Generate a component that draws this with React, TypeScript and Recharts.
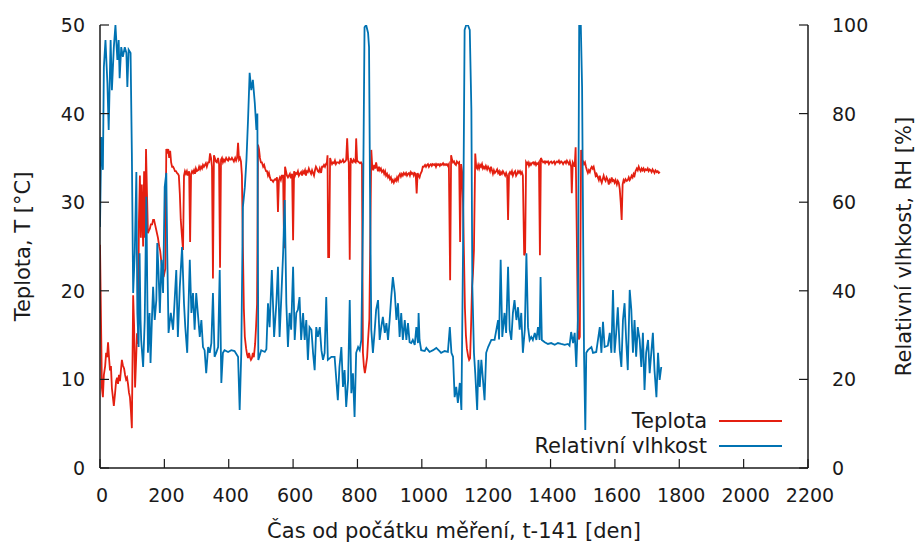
import { Line, LineChart, XAxis, YAxis } from "recharts";

// x axis: day since start of measurement (t-141)
const xTicks = [0, 200, 400, 600, 800, 1000, 1200, 1400, 1600, 1800, 2000, 2200];
const tTicks = [0, 10, 20, 30, 40, 50];
const rhTicks = [0, 20, 40, 60, 80, 100];

// [den, T °C]
const teplota: [number, number][] = [
  [0, 25.2], [3, 17], [6, 9], [9, 8], [12, 10.5], [16, 11.5], [19, 13], [22, 12.5], [25, 14.2], [28, 12.5],
  [31, 11], [34, 11.5], [37, 9], [40, 8], [43, 7], [47, 8.5], [50, 9.8], [53, 10.2], [56, 9.5], [59, 10.5],
  [62, 9.8], [65, 11], [68, 12.2], [71, 11.6], [75, 11.2], [78, 10.5], [81, 10], [84, 10.2], [87, 9.5], [90, 8.5],
  [93, 8], [96, 6.5], [99, 4.5], [103, 19.5], [106, 16], [109, 9.1], [112, 12], [115, 15.2], [118, 14], [121, 28],
  [124, 33], [127, 26], [130, 32], [134, 25], [137, 33.5], [140, 26], [143, 36], [146, 31], [149, 26.5], [152, 26.8],
  [155, 27], [158, 27.5], [162, 27.5], [165, 28], [168, 28], [171, 27.5], [174, 27], [177, 26.5], [180, 26], [184, 25],
  [187, 24.5], [190, 23.5], [193, 22.5], [196, 22], [199, 21.8], [203, 22.5], [206, 36], [209, 35.5], [212, 36], [215, 35],
  [218, 35.8], [221, 34.5], [224, 34], [227, 34], [230, 33.8], [233, 33.5], [236, 33.5], [239, 33.3], [242, 33.2], [245, 33],
  [248, 31], [251, 28], [255, 26], [258, 24.6], [261, 33], [264, 33.5], [267, 33.2], [270, 33.5], [273, 33], [277, 33.5],
  [280, 25.5], [283, 33.2], [286, 33.5], [289, 33.3], [292, 33.6], [295, 33.2], [298, 33.8], [301, 33.5], [305, 33.6], [308, 34],
  [311, 33.7], [314, 34], [317, 33.8], [320, 34.2], [323, 34], [326, 34.2], [329, 34.4], [332, 34], [336, 34.5], [339, 34.5],
  [342, 35.5], [345, 35], [348, 34], [351, 21.4], [354, 35.3], [357, 35], [360, 34.6], [363, 34.5], [367, 35], [370, 34.3],
  [373, 22.6], [376, 34.8], [379, 35], [382, 34.5], [385, 34.8], [388, 34.6], [392, 35], [395, 34.8], [398, 34.7], [401, 35],
  [404, 34.8], [407, 34.8], [410, 35], [413, 34.8], [416, 34.6], [420, 35], [423, 34.7], [426, 35], [429, 36.7], [432, 34.8],
  [435, 35], [438, 34.6], [441, 33], [444, 25], [447, 18], [450, 14.8], [454, 13.5], [457, 12.8], [460, 12.4], [463, 13],
  [466, 12.5], [469, 12.2], [472, 12.4], [475, 13], [478, 12.5], [482, 14], [485, 16], [488, 18.5], [491, 36.5], [494, 36],
  [497, 35], [500, 34.5], [503, 34.5], [507, 34], [510, 34.2], [513, 33.8], [516, 33.5], [519, 33.5], [522, 33], [525, 33.3],
  [528, 32.8], [531, 32.5], [534, 32.5], [538, 32.3], [541, 32.5], [544, 32.6], [547, 32.5], [550, 32.8], [553, 28.9], [556, 32.5],
  [559, 32.8], [562, 32.5], [565, 33], [569, 33], [572, 24.8], [575, 34], [578, 33.5], [581, 33], [584, 32.8], [587, 33],
  [590, 33.2], [593, 32.7], [597, 33.2], [600, 25.7], [603, 33.5], [606, 33], [609, 33.3], [612, 33.2], [615, 33.5], [618, 33],
  [621, 33.2], [625, 33.4], [628, 33], [631, 33.5], [634, 33.3], [637, 33.6], [640, 33], [643, 33.5], [646, 33.4], [649, 33.8],
  [652, 33.5], [656, 33.2], [659, 33.6], [662, 33.3], [665, 33], [668, 33.6], [671, 34], [674, 33.8], [677, 33.5], [680, 33.4],
  [683, 33.8], [687, 33.3], [690, 34], [693, 34], [696, 34.2], [699, 34], [702, 34.3], [705, 34.5], [707, 35.3], [709, 23.8],
  [712, 23.8], [715, 35], [718, 34.6], [721, 34.3], [724, 34.5], [727, 34.4], [730, 34.7], [733, 34.3], [736, 34.5], [740, 34.5],
  [743, 34.4], [746, 34.7], [749, 34.5], [752, 34.6], [755, 34.8], [758, 34.5], [762, 34.6], [765, 34.8], [768, 37.2], [771, 34.8],
  [773, 34.5], [776, 23.5], [779, 35], [782, 34.6], [785, 34.5], [788, 34.8], [791, 34.6], [794, 34.5], [796, 37.2], [799, 34.6],
  [802, 34.6], [805, 34.5], [808, 34.4], [811, 34.5], [814, 34.3], [817, 13], [820, 11.5], [823, 10.7], [826, 11.4], [830, 12.5],
  [833, 14.5], [837, 16.8], [843, 35.9], [846, 34], [849, 33.6], [852, 34.2], [855, 33.8], [858, 34.5], [861, 33.9], [864, 33.5],
  [867, 34], [870, 33.6], [873, 33.8], [876, 33.4], [880, 33.6], [883, 33.2], [886, 33.5], [889, 33], [892, 33.2], [895, 32.8],
  [898, 33], [901, 32.6], [904, 32.8], [907, 32.3], [910, 32.5], [913, 32.2], [917, 32.6], [920, 32.4], [923, 32.8], [926, 32.5],
  [929, 33], [932, 33.2], [935, 32.9], [938, 33.2], [941, 33], [944, 33.3], [948, 33.1], [951, 33.3], [954, 33], [957, 33.2],
  [960, 33.3], [963, 33], [966, 33.4], [969, 33.2], [972, 33.3], [975, 33], [978, 33.3], [981, 33.2], [984, 31], [987, 33.3],
  [990, 33], [993, 32.8], [996, 33.2], [1000, 33.5], [1003, 34], [1006, 34], [1010, 34.2], [1013, 34], [1016, 34.2], [1019, 34.3],
  [1022, 34], [1025, 34.2], [1028, 34.3], [1031, 34.1], [1034, 34.3], [1038, 34.2], [1041, 34.3], [1044, 34], [1047, 34.3], [1050, 34.2],
  [1053, 34.3], [1056, 34.1], [1059, 34.3], [1062, 34.2], [1066, 34.4], [1069, 34.2], [1072, 34.3], [1075, 34.2], [1078, 34.3], [1081, 34.1],
  [1084, 34.3], [1088, 21.2], [1091, 35.3], [1094, 34.8], [1097, 34.5], [1100, 34.6], [1103, 34.3], [1106, 34.2], [1109, 34.6], [1113, 34.4],
  [1116, 34.5], [1119, 25.5], [1122, 34.3], [1125, 33.5], [1128, 30], [1131, 24], [1134, 18], [1137, 15], [1140, 13.5], [1144, 12.6],
  [1147, 12.2], [1150, 12.4], [1153, 16], [1156, 20.4], [1159, 22], [1162, 24.6], [1166, 35.5], [1169, 34], [1172, 33.8], [1175, 34.2],
  [1178, 33.8], [1181, 34.2], [1184, 34], [1187, 34.3], [1190, 33.8], [1193, 34], [1196, 33.8], [1199, 34.1], [1203, 33.7], [1206, 34],
  [1209, 33.8], [1212, 33.5], [1215, 34], [1218, 33.6], [1221, 33.2], [1224, 33.6], [1227, 33.3], [1231, 33.5], [1234, 33.7], [1237, 33.3],
  [1240, 33.5], [1243, 33], [1246, 33.4], [1249, 33.2], [1252, 33.5], [1255, 33.3], [1259, 33], [1262, 33.3], [1265, 33], [1268, 28],
  [1271, 33.2], [1274, 33.4], [1277, 33.2], [1280, 33.5], [1283, 33], [1286, 33.3], [1290, 33.5], [1293, 33], [1296, 33.2], [1299, 33.5],
  [1302, 33.3], [1305, 33.5], [1308, 33.2], [1311, 33.4], [1314, 33], [1318, 24], [1321, 24.3], [1324, 34.5], [1327, 34.3], [1330, 34.5],
  [1333, 34.1], [1336, 34.4], [1339, 34.2], [1342, 34.4], [1346, 34.5], [1349, 34.3], [1352, 34.5], [1355, 34.2], [1358, 34.4], [1361, 34.3],
  [1364, 34.5], [1367, 24], [1370, 35], [1374, 34.7], [1377, 34.5], [1380, 34.6], [1383, 34.4], [1386, 34.6], [1389, 34.5], [1392, 34.6],
  [1395, 34.3], [1398, 34.5], [1402, 34.6], [1405, 34.4], [1408, 34.5], [1411, 34.6], [1414, 34.3], [1417, 34.5], [1420, 34.6], [1423, 34.5],
  [1426, 34.7], [1429, 34.4], [1433, 34.6], [1436, 34.5], [1439, 34.3], [1442, 34.5], [1445, 34.6], [1448, 34.4], [1451, 34.7], [1454, 34.5],
  [1457, 34.3], [1460, 34.6], [1464, 34], [1466, 31], [1469, 34.5], [1472, 34.3], [1475, 34], [1478, 36.2], [1482, 25], [1485, 15.6],
  [1488, 14.5], [1491, 14.8], [1495, 35.9], [1498, 34.8], [1501, 34.6], [1504, 34.3], [1507, 34.5], [1510, 34], [1513, 33.6], [1516, 33.3],
  [1519, 33.6], [1522, 33.4], [1525, 33.8], [1528, 34], [1531, 33.8], [1534, 34], [1537, 33.5], [1540, 33], [1543, 33.2], [1547, 32.8],
  [1550, 32.5], [1553, 33], [1556, 32.5], [1559, 32.2], [1562, 32.6], [1565, 33], [1568, 32.6], [1571, 32.4], [1574, 32.8], [1578, 32.5],
  [1581, 32], [1584, 32.5], [1587, 32.3], [1590, 32.8], [1593, 32.4], [1596, 32.5], [1599, 32.2], [1602, 32.5], [1606, 32], [1609, 32.4],
  [1612, 32.2], [1615, 31.5], [1618, 30], [1621, 28], [1624, 32], [1627, 32.5], [1630, 32.3], [1633, 32.6], [1637, 32.4], [1640, 32.5],
  [1643, 32.8], [1646, 32.5], [1649, 32.7], [1652, 33], [1655, 32.8], [1658, 33.2], [1661, 33], [1664, 33.5], [1668, 33.8], [1671, 33.6],
  [1674, 34], [1677, 33.7], [1680, 33.5], [1683, 33.8], [1686, 33.6], [1689, 33.8], [1692, 33.5], [1695, 33.7], [1699, 33.6], [1702, 33.8],
  [1705, 33.5], [1708, 33.7], [1711, 33.6], [1714, 33.4], [1717, 33.7], [1720, 33.5], [1723, 33.3], [1726, 33.6], [1730, 33.4], [1733, 33.5],
  [1736, 33.3], [1740, 33.4],
];

// [den, RH %]
const vlhkost: [number, number][] = [
  [0, 54.4], [4, 74.7], [9, 67.3], [12, 90.5], [17, 96.6], [23, 86.9], [27, 76.3], [33, 96.6], [37, 85.3], [43, 95],
  [48, 100], [54, 92.1], [58, 96.6], [61, 88], [66, 95], [71, 92.8], [77, 95], [82, 93.7], [85, 86], [89, 94.4],
  [95, 93.7], [99, 71.1], [103, 39.5], [108, 48.5], [113, 66.8], [116, 35], [120, 27.3], [123, 48.5], [126, 33.4], [128, 28.9],
  [134, 22.8], [139, 33.4], [144, 61.2], [147, 39.5], [149, 26], [154, 35], [157, 23.7], [162, 35], [165, 40.9], [170, 33.4],
  [175, 37.9], [178, 50.8], [182, 44], [186, 35], [191, 47], [196, 39.5], [201, 63.4], [206, 66.6], [209, 48.5], [213, 30.5],
  [220, 35], [227, 31.2], [237, 44.7], [242, 29.6], [248, 40.9], [255, 49.9], [261, 37.2], [265, 31.8], [271, 26], [279, 47],
  [284, 35], [289, 39.5], [294, 31.2], [299, 39.5], [304, 35], [310, 29.6], [315, 33.4], [320, 27.3], [325, 26.6], [330, 21.4],
  [336, 27.3], [341, 26], [346, 28.2], [351, 39.5], [356, 25.1], [361, 26], [367, 27.3], [372, 44.7], [377, 19.2], [382, 26],
  [387, 26.6], [398, 26.2], [408, 26.6], [418, 26.4], [429, 25.1], [434, 13.1], [439, 26], [444, 58.9], [450, 63.4], [455, 69.5],
  [460, 78.6], [465, 89.2], [470, 85.3], [475, 87.6], [481, 82.4], [486, 76.3], [489, 80], [492, 24.4], [501, 26.6], [512, 26.2],
  [517, 26.8], [522, 37.2], [527, 31.8], [534, 44.7], [541, 29.6], [548, 37.2], [553, 45.4], [558, 29.6], [563, 37.9], [569, 48.5],
  [574, 60.5], [579, 37.2], [584, 27.3], [589, 35], [594, 31.2], [600, 45.4], [605, 28.9], [610, 35], [615, 35.7], [620, 38.6],
  [625, 28.9], [631, 35], [636, 28.9], [641, 33.4], [646, 24.4], [651, 31.8], [657, 31.2], [662, 26], [667, 22.1], [672, 31.8],
  [677, 29.6], [683, 31.8], [688, 26.6], [693, 24.4], [698, 26], [703, 38.6], [708, 24.4], [719, 25.1], [729, 25.1], [739, 15.3],
  [744, 22.8], [750, 27.3], [755, 18.3], [760, 22.1], [765, 13.8], [771, 19.9], [776, 37.9], [781, 16.9], [786, 21.4], [791, 11.5],
  [796, 26], [802, 27.3], [807, 26.6], [812, 28.9], [817, 56], [822, 99.5], [827, 100], [833, 98.2], [836, 95], [839, 63.4],
  [843, 31.2], [848, 26], [853, 30.5], [858, 35.7], [864, 37.9], [869, 28.9], [874, 31.8], [879, 34.1], [885, 30.5], [890, 32.7],
  [895, 28.9], [900, 33.4], [905, 38.6], [910, 43.1], [916, 39.5], [921, 33.4], [926, 37.2], [931, 29.6], [936, 35], [941, 28.9],
  [947, 33.4], [952, 28.9], [957, 32.7], [962, 28.4], [967, 28.2], [972, 28.9], [978, 27.8], [983, 31.8], [988, 28.2], [990, 35],
  [993, 28.9], [998, 26.6], [1009, 26.4], [1014, 27.1], [1024, 26.2], [1035, 26.6], [1045, 27.1], [1055, 26.4], [1060, 26], [1071, 26.4],
  [1081, 26.2], [1087, 31.8], [1092, 26], [1097, 25.1], [1102, 16], [1107, 18.3], [1112, 14.7], [1118, 19.2], [1123, 13.1], [1128, 48.5],
  [1133, 98.9], [1138, 100], [1143, 100], [1149, 98.9], [1154, 80.8], [1157, 40.9], [1162, 26], [1166, 21.4], [1172, 13.1], [1176, 24.4],
  [1180, 18.3], [1185, 24.4], [1190, 19.9], [1195, 15.3], [1200, 26], [1206, 27.3], [1216, 28.9], [1226, 28.9], [1237, 33.4], [1240, 29],
  [1245, 47], [1250, 29.6], [1257, 35], [1262, 30.5], [1268, 45.4], [1273, 31.2], [1278, 28.9], [1283, 35], [1288, 37.9], [1294, 33.4],
  [1299, 36.3], [1304, 31.2], [1309, 35], [1314, 26], [1320, 31.2], [1325, 48.5], [1330, 31.8], [1335, 28.9], [1340, 29.6], [1345, 28.9],
  [1351, 30.5], [1356, 28.9], [1361, 31.8], [1366, 28.9], [1369, 43.1], [1373, 28.9], [1382, 28.4], [1392, 28], [1402, 28.2], [1413, 27.8],
  [1423, 28.2], [1433, 28], [1444, 27.8], [1454, 28], [1459, 27.6], [1464, 30.7], [1470, 28.2], [1475, 30.5], [1480, 22.8], [1485, 33.4],
  [1489, 100], [1494, 100], [1498, 86], [1504, 26], [1508, 8.6], [1511, 26], [1516, 26.6], [1527, 27.3], [1532, 26], [1542, 26.2],
  [1553, 31.8], [1558, 26], [1563, 33], [1568, 27.3], [1578, 27.6], [1584, 30.5], [1589, 26], [1594, 40.2], [1599, 26], [1604, 30.5],
  [1609, 36.3], [1615, 26.6], [1620, 22.8], [1625, 33.4], [1630, 37.2], [1635, 28.9], [1640, 22.1], [1646, 40.2], [1651, 35.7], [1656, 26],
  [1661, 33.4], [1666, 25.1], [1671, 31.8], [1677, 28.9], [1682, 22.8], [1687, 30.5], [1692, 17.6], [1697, 26], [1703, 28.9], [1708, 21.4],
  [1713, 26], [1718, 30.5], [1723, 22.1], [1729, 16], [1734, 26], [1739, 19.9], [1744, 22.8],
];

const RED = "#e41f10";
const BLUE = "#0072b2";
const INK = "#1a1a1a";
const FONT = "'DejaVu Sans', sans-serif";
const TICK_FS = 19;
const TITLE_FS = 21;

const tempData = teplota.map(([d, v]) => ({ d, v }));
const rhData = vlhkost.map(([d, v]) => ({ d, v }));

function XTick(props: any) {
  const { x, y, payload } = props;
  return (
    <g>
      <line x1={x} x2={x} y1={y} y2={y - 9} stroke={INK} strokeWidth={1.2} />
      <text x={x + 2} y={y + 34} textAnchor="middle" fontSize={TICK_FS} fontFamily={FONT} fill={INK}>
        {payload.value}
      </text>
    </g>
  );
}

function LeftTick(props: any) {
  const { x, y, payload } = props;
  return (
    <g>
      <line x1={x} x2={x + 9} y1={y} y2={y} stroke={INK} strokeWidth={1.2} />
      <text x={x - 15} y={y + 7} textAnchor="end" fontSize={TICK_FS} fontFamily={FONT} fill={INK}>
        {payload.value}
      </text>
    </g>
  );
}

function RightTick(props: any) {
  const { x, y, payload } = props;
  return (
    <g>
      <line x1={x - 9} x2={x} y1={y} y2={y} stroke={INK} strokeWidth={1.2} />
      <text x={x + 24} y={y + 7} textAnchor="start" fontSize={TICK_FS} fontFamily={FONT} fill={INK}>
        {payload.value}
      </text>
    </g>
  );
}

function VerticalTitle(props: any) {
  const { viewBox, value, cx } = props;
  const cy = viewBox.y + viewBox.height / 2;
  return (
    <text
      x={cx}
      y={cy}
      transform={`rotate(-90 ${cx} ${cy})`}
      textAnchor="middle"
      dominantBaseline="central"
      fontSize={TITLE_FS}
      fontFamily={FONT}
      fill={INK}
    >
      {value}
    </text>
  );
}

function XTitle(props: any) {
  const { viewBox } = props;
  return (
    <text x={viewBox.x + viewBox.width / 2} y={538} textAnchor="middle" fontSize={TITLE_FS} fontFamily={FONT} fill={INK}>
      Čas od počátku měření, t-141 [den]
    </text>
  );
}

const legendItems = [
  { name: "Teplota", color: RED, y: 421 },
  { name: "Relativní vlhkost", color: BLUE, y: 446 },
];

export default function App() {
  return (
    <div style={{ position: "absolute", left: 0, top: 0, width: 917, height: 545, background: "#fff" }}>
      <LineChart width={917} height={545} margin={{ top: 25, right: 0, bottom: 0, left: 0 }}>
        <XAxis
          dataKey="d"
          type="number"
          domain={[0, 2200]}
          ticks={xTicks}
          height={77}
          tickSize={0}
          tickMargin={0}
          tickLine={false}
          tick={<XTick />}
          axisLine={{ stroke: INK, strokeWidth: 1.5 }}
          allowDataOverflow
          label={<XTitle />}
        />
        <XAxis
          xAxisId="top"
          orientation="top"
          type="number"
          domain={[0, 2200]}
          height={0}
          tick={false}
          tickLine={false}
          axisLine={{ stroke: INK, strokeWidth: 1.5 }}
        />
        <YAxis
          yAxisId="left"
          domain={[0, 50]}
          ticks={tTicks}
          width={100}
          tickSize={0}
          tickMargin={0}
          tickLine={false}
          tick={<LeftTick />}
          axisLine={{ stroke: INK, strokeWidth: 1.5 }}
          allowDataOverflow
          label={<VerticalTitle value="Teplota, T [°C]" cx={23} />}
        />
        <YAxis
          yAxisId="right"
          orientation="right"
          domain={[0, 100]}
          ticks={rhTicks}
          width={109}
          tickSize={0}
          tickMargin={0}
          tickLine={false}
          tick={<RightTick />}
          axisLine={{ stroke: INK, strokeWidth: 1.5 }}
          allowDataOverflow
          label={<VerticalTitle value="Relativní vlhkost, RH [%]" cx={904} />}
        />
        <Line
          yAxisId="left"
          data={tempData}
          dataKey="v"
          name="Teplota"
          stroke={RED}
          strokeWidth={1.8}
          dot={false}
          activeDot={false}
          isAnimationActive={false}
        />
        <Line
          yAxisId="right"
          data={rhData}
          dataKey="v"
          name="Relativní vlhkost"
          stroke={BLUE}
          strokeWidth={1.8}
          dot={false}
          activeDot={false}
          isAnimationActive={false}
        />
      </LineChart>

      {legendItems.map((it) => (
        <div key={it.name}>
          <div
            style={{
              position: "absolute",
              right: 917 - 707,
              top: it.y - 12,
              lineHeight: "24px",
              fontSize: TITLE_FS,
              fontFamily: FONT,
              color: INK,
              whiteSpace: "nowrap",
            }}
          >
            {it.name}
          </div>
          <div style={{ position: "absolute", left: 719, top: it.y - 1, width: 63, height: 2, background: it.color }} />
        </div>
      ))}
    </div>
  );
}
